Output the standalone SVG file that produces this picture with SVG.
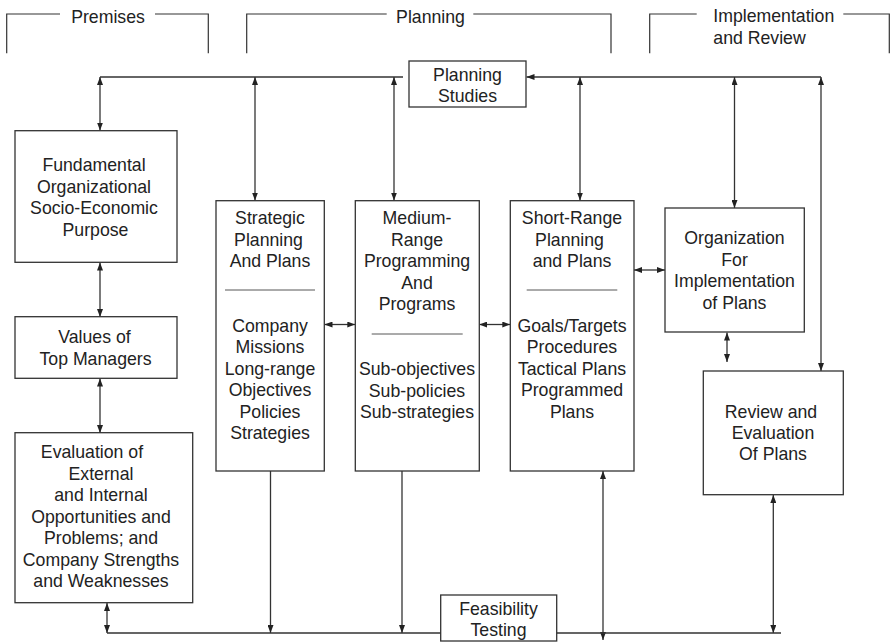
<svg xmlns="http://www.w3.org/2000/svg" width="891" height="642" viewBox="0 0 891 642">
<style>
  text { font-family: "Liberation Sans", Arial, sans-serif; font-size: 17.7px; fill: #222; }
  .c { text-anchor: middle; }
  .box { fill: #fff; stroke: #333; stroke-width: 1.3; }
  .ln { fill: none; stroke: #333; stroke-width: 1.3; }
  .sep { stroke: #444; stroke-width: 0.9; }
  .hdr { fill: none; stroke: #333; stroke-width: 1.2; }
</style>
<defs>
  <marker id="ah" viewBox="0 0 8 6" refX="8" refY="3" markerWidth="8" markerHeight="6" markerUnits="userSpaceOnUse" orient="auto-start-reverse">
    <path d="M0,0 L8,3 L0,6 z" fill="#222"/>
  </marker>
</defs>
<rect width="891" height="642" fill="#fff"/>

<g id="headers">
  <path class="hdr" d="M6.7,53.3 V14 H60 M155,14 H208.3 V53.3"/>
  <text x="108" y="22.5" class="c">Premises</text>
  <path class="hdr" d="M246.7,53.3 V14 H386.7 M473.3,14 H611 V53.3"/>
  <text x="430.5" y="22.5" class="c">Planning</text>
  <path class="hdr" d="M649.7,53.3 V14 H696.7 M843.3,14 H889.3 V53.3"/>
  <text x="713.3" y="22">Implementation</text>
  <text x="713.3" y="43.5">and Review</text>
</g>

<g id="connectors">
  <path class="ln" d="M100,77 H403"/>
  <path class="ln" d="M821,77 H526.5" marker-end="url(#ah)"/>
  <path class="ln" d="M100,77 V130.5" marker-start="url(#ah)" marker-end="url(#ah)"/>
  <path class="ln" d="M255,77 V200.5" marker-start="url(#ah)" marker-end="url(#ah)"/>
  <path class="ln" d="M394,77 V200.5" marker-start="url(#ah)" marker-end="url(#ah)"/>
  <path class="ln" d="M580,77 V200.5" marker-start="url(#ah)" marker-end="url(#ah)"/>
  <path class="ln" d="M734.5,77 V208" marker-start="url(#ah)" marker-end="url(#ah)"/>
  <path class="ln" d="M821,77 V371" marker-start="url(#ah)" marker-end="url(#ah)"/>
  <path class="ln" d="M100,262.5 V317" marker-start="url(#ah)" marker-end="url(#ah)"/>
  <path class="ln" d="M100,378.5 V433" marker-start="url(#ah)" marker-end="url(#ah)"/>
  <path class="ln" d="M324.5,324.5 H355.3" marker-start="url(#ah)" marker-end="url(#ah)"/>
  <path class="ln" d="M479.3,324.5 H510.3" marker-start="url(#ah)" marker-end="url(#ah)"/>
  <path class="ln" d="M634,270 H665" marker-start="url(#ah)" marker-end="url(#ah)"/>
  <path class="ln" d="M727,332.5 V362" marker-start="url(#ah)" marker-end="url(#ah)"/>
  <path class="ln" d="M107,603 V633" marker-start="url(#ah)" marker-end="url(#ah)"/>
  <path class="ln" d="M270.5,471 V633" marker-end="url(#ah)"/>
  <path class="ln" d="M402,471 V633" marker-end="url(#ah)"/>
  <path class="ln" d="M603,471 V640" marker-start="url(#ah)" marker-end="url(#ah)"/>
  <path class="ln" d="M773.3,495 V633" marker-start="url(#ah)" marker-end="url(#ah)"/>
  <path class="ln" d="M107,633 H441 M557,633 H781"/>
</g>

<g id="planning-studies">
  <rect class="box" x="409" y="61" width="117" height="46"/>
  <text x="467.5" y="80.5" class="c">Planning</text>
  <text x="467.5" y="101.5" class="c">Studies</text>
</g>

<g id="fundamental">
  <rect class="box" x="15" y="130.7" width="162" height="131.6"/>
  <text x="94" y="171" class="c">Fundamental</text>
  <text x="94" y="192.5" class="c">Organizational</text>
  <text x="94" y="214" class="c">Socio-Economic</text>
  <text x="95.5" y="235.5" class="c">Purpose</text>
</g>

<g id="values">
  <rect class="box" x="15" y="316.7" width="162" height="61.6"/>
  <text x="94.5" y="343" class="c">Values of</text>
  <text x="95.5" y="364.5" class="c">Top Managers</text>
</g>

<g id="evaluation">
  <rect class="box" x="15" y="432.7" width="177.7" height="170"/>
  <text x="92" y="458" class="c">Evaluation of</text>
  <text x="101" y="479.5" class="c">External</text>
  <text x="101" y="501" class="c">and Internal</text>
  <text x="101" y="522.5" class="c">Opportunities and</text>
  <text x="101" y="544" class="c">Problems; and</text>
  <text x="101" y="565.5" class="c">Company Strengths</text>
  <text x="101" y="587" class="c">and Weaknesses</text>
</g>

<g id="strategic">
  <rect class="box" x="216" y="200.7" width="108.3" height="270.3"/>
  <text x="270" y="224" class="c">Strategic</text>
  <text x="268.5" y="245.5" class="c">Planning</text>
  <text x="270" y="267" class="c">And Plans</text>
  <line class="sep" x1="225" y1="290" x2="315" y2="290"/>
  <text x="270" y="331.5" class="c">Company</text>
  <text x="270" y="353" class="c">Missions</text>
  <text x="270" y="374.5" class="c">Long-range</text>
  <text x="270" y="396" class="c">Objectives</text>
  <text x="270" y="417.5" class="c">Policies</text>
  <text x="270" y="439" class="c">Strategies</text>
</g>

<g id="medium">
  <rect class="box" x="355.3" y="200.7" width="124" height="270.3"/>
  <text x="417" y="224" class="c">Medium-</text>
  <text x="417" y="245.5" class="c">Range</text>
  <text x="417" y="267" class="c">Programming</text>
  <text x="417" y="288.5" class="c">And</text>
  <text x="417" y="310" class="c">Programs</text>
  <line class="sep" x1="371.7" y1="334" x2="462.7" y2="334"/>
  <text x="417" y="375" class="c">Sub-objectives</text>
  <text x="417" y="396.5" class="c">Sub-policies</text>
  <text x="417" y="418" class="c">Sub-strategies</text>
</g>

<g id="short-range">
  <rect class="box" x="510.3" y="200.7" width="123.7" height="270.3"/>
  <text x="572" y="224" class="c">Short-Range</text>
  <text x="569.5" y="245.5" class="c">Planning</text>
  <text x="572" y="267" class="c">and Plans</text>
  <line class="sep" x1="526.7" y1="290" x2="617.3" y2="290"/>
  <text x="572" y="331.5" class="c">Goals/Targets</text>
  <text x="572" y="353" class="c">Procedures</text>
  <text x="572" y="374.5" class="c">Tactical Plans</text>
  <text x="572" y="396" class="c">Programmed</text>
  <text x="572" y="417.5" class="c">Plans</text>
</g>

<g id="organization">
  <rect class="box" x="665" y="208" width="139.3" height="124"/>
  <text x="734.5" y="244" class="c">Organization</text>
  <text x="734.5" y="265.5" class="c">For</text>
  <text x="734.5" y="287" class="c">Implementation</text>
  <text x="734.5" y="308.5" class="c">of Plans</text>
</g>

<g id="review">
  <rect class="box" x="703.3" y="371" width="140" height="123.7"/>
  <text x="771" y="417.5" class="c">Review and</text>
  <text x="773" y="439" class="c">Evaluation</text>
  <text x="773" y="460" class="c">Of Plans</text>
</g>

<g id="feasibility">
  <rect class="box" x="440.7" y="595" width="116" height="46"/>
  <text x="498.5" y="614.5" class="c">Feasibility</text>
  <text x="498.5" y="635.5" class="c">Testing</text>
</g>
</svg>
